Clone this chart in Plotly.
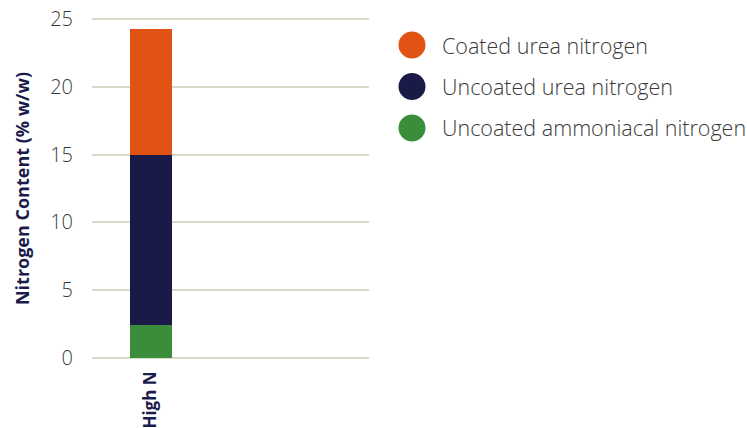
import plotly.graph_objects as go

# Stacked composition of the nitrogen content for one product
categories = ["High N"]
series_names = ["Uncoated ammoniacal nitrogen", "Uncoated urea nitrogen", "Coated urea nitrogen"]
series_values = [[2.4], [12.6], [9.3]]
series_colors = ["#3b8c3b", "#1a1a48", "#e05314"]
y_ticks = [0, 5, 10, 15, 20, 25]

NAVY = "#1b1b4b"
FONT = "Open Sans"

fig = go.Figure()
for name, vals, col in zip(series_names, series_values, series_colors):
    fig.add_trace(go.Bar(x=categories, y=vals, name=name, marker_color=col,
                         marker_line_width=0, width=0.6, showlegend=False))

# Legend drawn as large circles with labels, top entry first
legend_order = list(zip(series_names, series_colors))[::-1]
x_dot, x_text = 412, 440
y_top, y_step = 45, 41.5
W, H = 747, 428
ml, mr, mt, mb = 92, 378, 18, 69
pw, ph = W - ml - mr, H - mt - mb
for i, (name, col) in enumerate(legend_order):
    py = y_top + i * y_step
    xp = (x_dot - ml) / pw
    yp = 1 - (py - mt) / ph
    fig.add_shape(type="circle", xref="paper", yref="paper",
                  xsizemode="pixel", ysizemode="pixel",
                  xanchor=xp, yanchor=yp, x0=-13.5, x1=13.5, y0=-13.5, y1=13.5,
                  fillcolor=col, line_width=0)
    fig.add_annotation(xref="paper", yref="paper", x=(x_text - ml) / pw, y=yp,
                       xanchor="left", yanchor="middle", showarrow=False,
                       text=name, font=dict(family=FONT, size=21.5, color="#3a3a3a", weight=300))

fig.update_layout(
    barmode="stack",
    width=W, height=H,
    margin=dict(l=ml, r=mr, t=mt, b=mb, autoexpand=False),
    paper_bgcolor="white", plot_bgcolor="white",
    font=dict(family=FONT),
    xaxis=dict(range=[-0.84, 3.11], showgrid=False, showline=False, zeroline=False,
               tickangle=-90, ticks="", ticklabelstandoff=8, automargin=False,
               tickfont=dict(family=FONT, size=17, color=NAVY, weight="bold")),
    yaxis=dict(range=[-0.1, 25.1], tickvals=y_ticks, showgrid=True,
               gridcolor="#d6dac6", gridwidth=1.5, zeroline=False, showline=False,
               ticks="", ticklabelstandoff=18, automargin=False,
               tickfont=dict(family=FONT, size=20, color="#3a3a3a", weight=300),
               title=dict(text="Nitrogen Content (% w/w)", standoff=15,
                          font=dict(family=FONT, size=18, color=NAVY, weight="bold"))),
)

fig.write_html("out.html")
